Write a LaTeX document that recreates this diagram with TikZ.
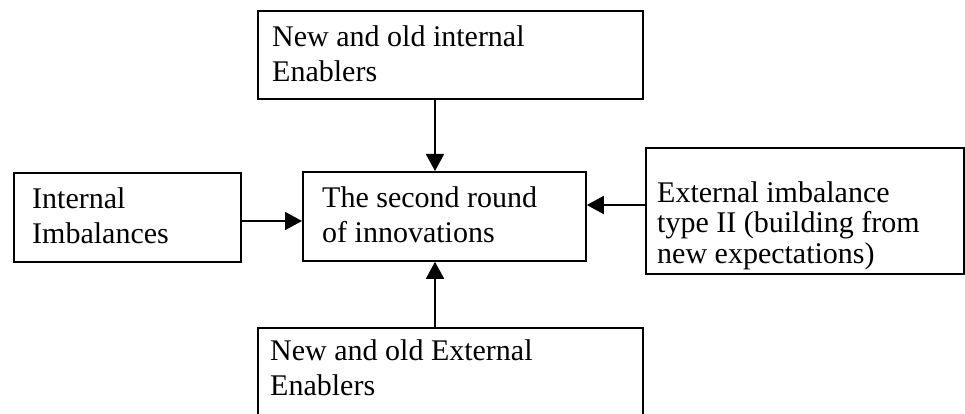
\documentclass[tikz,border=0pt]{standalone}
\usepackage{fontspec}
\setmainfont{Liberation Serif}
\usetikzlibrary{arrows.meta}
\begin{document}
\begin{tikzpicture}[x=1pt,y=-1pt,
  box/.style={draw,line width=1.8pt,inner sep=0pt,anchor=north west},
  txt/.style={anchor=base west,inner sep=0pt,align=left,font=\fontsize{30}{35}\selectfont},
  feed/.style={line width=1.8pt,-{Triangle[length=17pt,width=18pt]}}]
\fill[white] (0,0) rectangle (965,414);
\clip (0,0) rectangle (965,414);

% boxes
\node[box,minimum width=385pt,minimum height=88pt]  (inEn) at (257,10)  {};
\node[box,minimum width=227pt,minimum height=89pt]  (imb)  at (13,172)  {};
\node[box,minimum width=283pt,minimum height=89pt]  (rnd)  at (302,171) {};
\node[box,minimum width=318pt,minimum height=126pt] (ext)  at (645,147) {};
\node[box,minimum width=385pt,minimum height=100pt] (exEn) at (257,327) {};

% box texts (anchored on the baseline of their last line)
\node[txt] (inEnT) at (272,82)  {New and old internal\\Enablers};
\node[txt] (imbT)  at (32,243)  {Internal\\Imbalances};
\node[txt] (rndT)  at (322,242) {The second round\\of innovations};
\node[txt,font=\fontsize{30}{30.5}\selectfont] (extT) at (657,263)
  {External imbalance\\type II (building from\\new expectations)};
\node[txt] (exEnT) at (270,395) {New and old External\\Enablers};

% influences on the second round
\draw[feed] ([xshift=178pt]inEn.south west) -- ([xshift=133pt]rnd.north west);
\draw[feed] ([xshift=178pt]exEn.north west) -- ([xshift=133pt]rnd.south west);
\draw[feed] ([yshift=-49pt]imb.north east) -- ([yshift=-50pt]rnd.north west);
\draw[feed] ([yshift=-58pt]ext.north west) -- ([yshift=-34pt]rnd.north east);
\end{tikzpicture}
\end{document}
